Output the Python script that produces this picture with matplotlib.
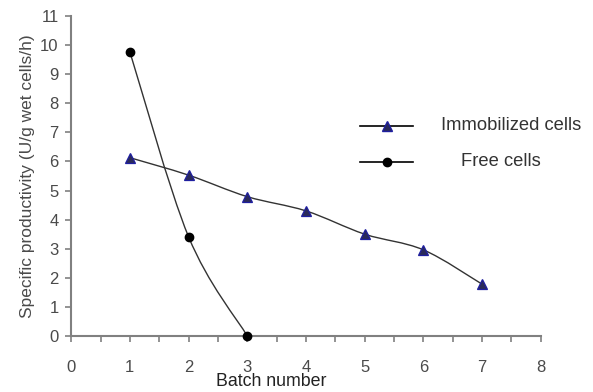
import matplotlib
matplotlib.use("Agg")
import matplotlib.pyplot as plt
import numpy as np
from matplotlib.path import Path
from matplotlib.patches import PathPatch
from matplotlib.lines import Line2D

plt.rcParams["font.family"] = ["Liberation Sans", "DejaVu Sans"]

batch_immobilized = [1, 2, 3, 4, 5, 6, 7]
prod_immobilized = [6.13, 5.53, 4.79, 4.3, 3.5, 2.96, 1.78]

batch_free = [1, 2, 3]
prod_free = [9.77, 3.41, 0.0]

x_ticks = [0, 1, 2, 3, 4, 5, 6, 7, 8]
y_ticks = [0, 1, 2, 3, 4, 5, 6, 7, 8, 9, 10, 11]

AXIS_GREY = "#808080"
TEXT_GREY = "#4a4a4a"
LINE_COLOR = "#333333"


def smooth_path(xs, ys):
    """Excel-style smoothed line: cubic Bezier through the points (Catmull-Rom)."""
    pts = np.column_stack([xs, ys]).astype(float)
    ext = np.vstack([pts[0], pts, pts[-1]])
    verts = [tuple(pts[0])]
    codes = [Path.MOVETO]
    for i in range(1, len(ext) - 2):
        p0, p1, p2, p3 = ext[i - 1], ext[i], ext[i + 1], ext[i + 2]
        c1 = p1 + (p2 - p0) / 6.0
        c2 = p2 - (p3 - p1) / 6.0
        verts += [tuple(c1), tuple(c2), tuple(p2)]
        codes += [Path.CURVE4] * 3
    return Path(verts, codes)


fig = plt.figure(figsize=(5.93, 3.92), dpi=100)
ax = fig.add_axes([0.120, 0.143, 0.792, 0.816])

for xs, ys in [(batch_immobilized, prod_immobilized), (batch_free, prod_free)]:
    ax.add_patch(PathPatch(smooth_path(xs, ys), facecolor="none",
                           edgecolor=LINE_COLOR, lw=1.0, zorder=2))

ax.plot(batch_immobilized, prod_immobilized, linestyle="none", marker="^",
        markersize=6.5, markerfacecolor="#2a2a5a", markeredgecolor="#1f1fa0",
        markeredgewidth=0.9, zorder=3, clip_on=False)
ax.plot(batch_free, prod_free, linestyle="none", marker="o", markersize=6,
        markerfacecolor="black", markeredgecolor="black", zorder=3, clip_on=False)

ax.set_xlim(0, 8)
ax.set_ylim(0, 11)
ax.set_xticks(x_ticks)
ax.set_xticks(np.arange(0.5, 8, 1.0), minor=True)
ax.set_yticks(y_ticks)

for side in ["top", "right"]:
    ax.spines[side].set_visible(False)
for side in ["left", "bottom"]:
    ax.spines[side].set_color(AXIS_GREY)
    ax.spines[side].set_linewidth(1.5)

ax.tick_params(axis="both", which="both", colors=AXIS_GREY, width=1.2,
               length=4, labelcolor=TEXT_GREY, labelsize=12)
ax.tick_params(axis="x", pad=13)
ax.tick_params(axis="y", pad=5)

ax.set_ylabel("Specific productivity (U/g wet cells/h)", color=TEXT_GREY,
              fontsize=12.5, labelpad=4)
fig.text(0.365, 0.004, "Batch number", color="#222222", fontsize=12.8,
         ha="left", va="bottom")

# legend drawn by hand to match the layout of the original
leg_x0, leg_x1 = 360 / 593, 413 / 593
for y_px, marker, mfc, mec, label, tx in [
        (126, "^", "#2a2a5a", "#1f1fa0", "Immobilized cells", 441),
        (162, "o", "black", "black", "Free cells", 461)]:
    y = 1 - y_px / 392
    fig.add_artist(Line2D([leg_x0, leg_x1], [y, y], color="black", lw=1.2,
                          transform=fig.transFigure))
    fig.add_artist(Line2D([(leg_x0 + leg_x1) / 2], [y], marker=marker,
                          markersize=6.5 if marker == "^" else 6,
                          markerfacecolor=mfc, markeredgecolor=mec,
                          linestyle="none", transform=fig.transFigure))
    fig.text(tx / 593, y, label, color="#333333", fontsize=13.2,
             ha="left", va="center")

fig.savefig("out.png", dpi=100)
